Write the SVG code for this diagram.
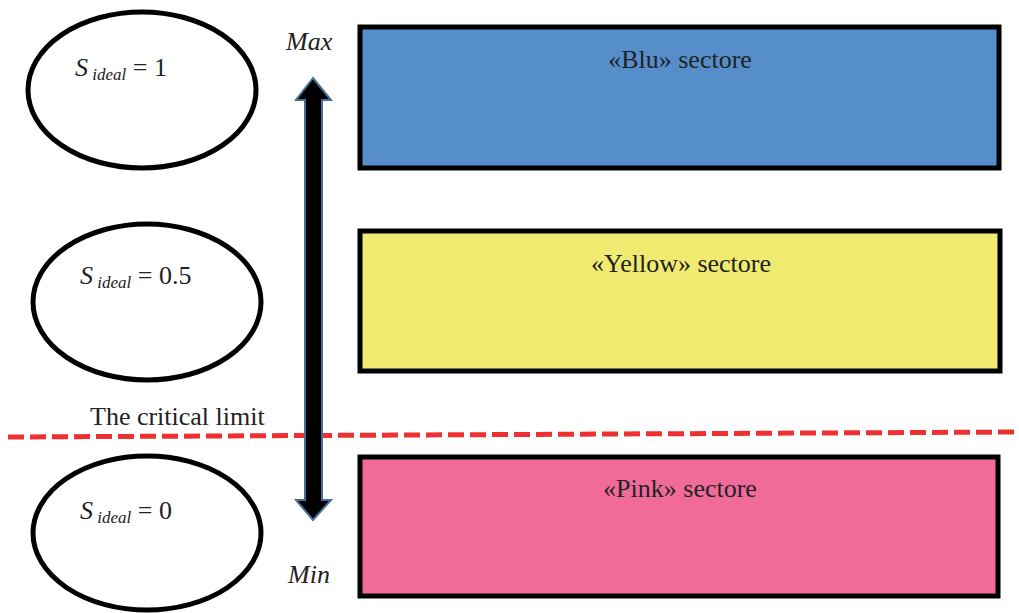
<svg xmlns="http://www.w3.org/2000/svg" width="1019" height="613" viewBox="0 0 1019 613">
<style>
.ell{fill:#fff;stroke:#000;stroke-width:5}
.sec{stroke:#000;stroke-width:5}
.t{font-family:"Liberation Serif",serif;fill:#222}
.it{font-style:italic}
.lab{font-size:26px;text-anchor:middle}
</style>
<rect width="1019" height="613" fill="#fff"/>
<g id="ellipse-1">
<ellipse class="ell" cx="142" cy="90" rx="114" ry="78"/>
<text class="t" x="75" y="76" font-size="26"><tspan class="it">S</tspan><tspan class="it" font-size="17" dy="4"> ideal</tspan><tspan dy="-4"> = 1</tspan></text>
</g>
<g id="ellipse-2">
<ellipse class="ell" cx="147" cy="302" rx="114" ry="78"/>
<text class="t" x="80" y="284" font-size="26"><tspan class="it">S</tspan><tspan class="it" font-size="17" dy="4"> ideal</tspan><tspan dy="-4"> = 0.5</tspan></text>
</g>
<g id="ellipse-3">
<ellipse class="ell" cx="147" cy="533" rx="114" ry="77"/>
<text class="t" x="80" y="519" font-size="26"><tspan class="it">S</tspan><tspan class="it" font-size="17" dy="4"> ideal</tspan><tspan dy="-4"> = 0</tspan></text>
</g>
<g id="blu">
<rect class="sec" x="360" y="27" width="639" height="141" fill="#558ecb"/>
<text class="t lab" x="680" y="68">«Blu» sectore</text>
</g>
<g id="yellow">
<rect class="sec" x="360" y="231" width="640" height="140" fill="#f0eb70"/>
<text class="t lab" x="681" y="272">«Yellow» sectore</text>
</g>
<g id="pink">
<rect class="sec" x="360" y="457" width="638" height="139" fill="#f06b9a"/>
<text class="t lab" x="680" y="497">«Pink» sectore</text>
</g>
<g id="labels">
<text class="t it" x="286" y="50" font-size="26">Max</text>
<text class="t it" x="288" y="583" font-size="26">Min</text>
<text class="t" x="90" y="425" font-size="26">The critical limit</text>
</g>
<g id="connectors">
<line x1="8" y1="437" x2="1019" y2="432" stroke="#ee3030" stroke-width="5" stroke-dasharray="16,6"/>
<polygon points="313,78 331,100 322,100 322,500 331,500 313,520 296,500 305,500 305,100 296,100" fill="#000" stroke="#41719c" stroke-width="2" stroke-linejoin="miter"/>
</g>
</svg>
